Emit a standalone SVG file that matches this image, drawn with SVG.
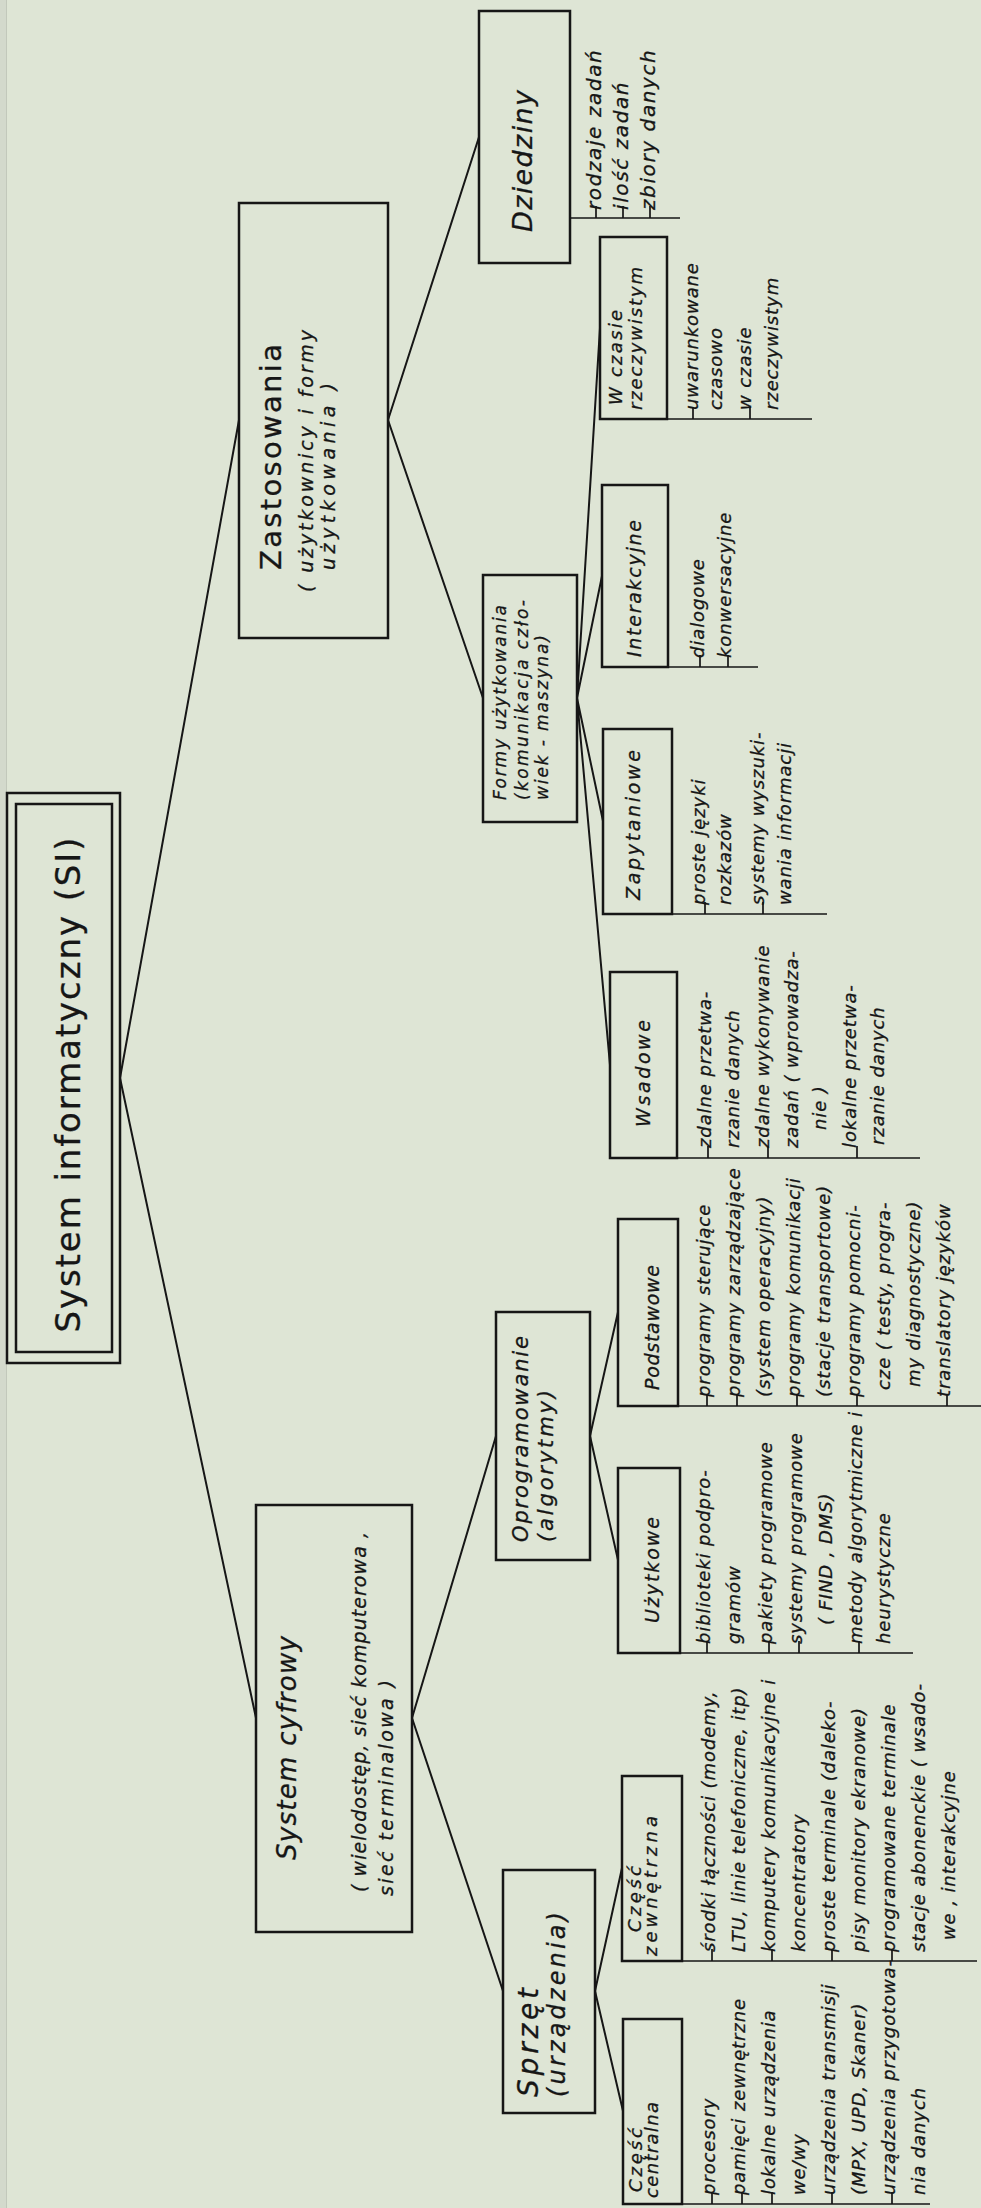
<svg xmlns="http://www.w3.org/2000/svg" width="981" height="2208" viewBox="0 0 981 2208">
<style>
.box{fill:none;stroke:#161616;stroke-width:2.5}
.conn{fill:none;stroke:#161616;stroke-width:2}
.ll{fill:none;stroke:#161616;stroke-width:1.7}
text{font-family:"DejaVu Sans","Liberation Sans",sans-serif;fill:#161616;stroke:#161616;stroke-width:0.3}
.it{font-style:italic}
.leaf{font-style:italic;font-size:18px;letter-spacing:0.9px}
.leafb{font-style:italic;font-size:20px;letter-spacing:1.6px}
.h{font-style:italic;font-size:19px}
</style>
<rect width="981" height="2208" fill="#dee5d5"/>
<rect width="6" height="2208" fill="#d3d9cc"/>
<line x1="6.5" y1="0" x2="6.5" y2="2208" stroke="#c2c8bb" stroke-width="1"/>

<g id="connectors">
<path class="conn" d="M120 1078L239 420M120 1078L256 1718M388 420L479 137M388 420L483 698M577 698L600 328M577 698L602 576M577 698L603 821M577 698L610 1065M412 1718L496 1436M412 1718L503 1991M590 1436L618 1312M590 1436L618 1560M595 1991L622 1868M595 1991L623 2111"/>
</g>

<g id="root">
<rect class="box" x="7" y="793" width="113" height="570"/>
<rect class="box" x="16" y="804" width="96" height="548" stroke-width="2"/>
<text x="80" y="1085" font-size="34" text-anchor="middle" textLength="495" transform="rotate(-90 80 1085)">System informatyczny (SI)</text>
</g>

<g id="zastosowania">
<rect class="box" x="239" y="203" width="149" height="435"/>
<text x="281" y="570" font-size="29" textLength="226" transform="rotate(-90 281 570)">Zastosowania</text>
<text class="it" x="313" y="592" font-size="19" textLength="262" transform="rotate(-90 313 592)">( użytkownicy i formy</text>
<text class="it" x="335" y="570" font-size="19" textLength="187" transform="rotate(-90 335 570)">użytkowania )</text>
</g>

<g id="dziedziny">
<rect class="box" x="479" y="11" width="91" height="252"/>
<text class="it" x="532" y="232" font-size="27" textLength="142" transform="rotate(-90 532 232)">Dziedziny</text>
<path class="ll" d="M570 218H680M596 206V218M623 206V218M650 206V218"/>
<text class="leafb" x="601" y="210" transform="rotate(-90 601 210)">rodzaje zadań</text>
<text class="leafb" x="628" y="210" transform="rotate(-90 628 210)">ilość zadań</text>
<text class="leafb" x="655" y="210" transform="rotate(-90 655 210)">zbiory danych</text>
</g>

<g id="formy">
<rect class="box" x="483" y="575" width="94" height="247"/>
<text class="it" x="506" y="800" font-size="17" textLength="195" transform="rotate(-90 506 800)">Formy użytkowania</text>
<text class="it" x="528" y="800" font-size="17" textLength="200" transform="rotate(-90 528 800)">(komunikacja czło-</text>
<text class="it" x="548" y="800" font-size="17" textLength="165" transform="rotate(-90 548 800)">wiek - maszyna)</text>
</g>

<g id="w-czasie">
<rect class="box" x="600" y="237" width="67" height="182"/>
<text class="it" x="622" y="405" font-size="18" textLength="95" transform="rotate(-90 622 405)">W czasie</text>
<text class="it" x="642" y="410" font-size="18" textLength="143" transform="rotate(-90 642 410)">rzeczywistym</text>
<path class="ll" d="M667 419H812M693 407V419M750 407V419"/>
<text class="leaf" x="698" y="410" transform="rotate(-90 698 410)">uwarunkowane</text>
<text class="leaf" x="722" y="410" transform="rotate(-90 722 410)">czasowo</text>
<text class="leaf" x="751" y="410" transform="rotate(-90 751 410)">w czasie</text>
<text class="leaf" x="778" y="410" transform="rotate(-90 778 410)">rzeczywistym</text>
</g>

<g id="interakcyjne">
<rect class="box" x="602" y="485" width="66" height="182"/>
<text class="h" x="641" y="657" textLength="137" transform="rotate(-90 641 657)">Interakcyjne</text>
<path class="ll" d="M668 667H758M700 655V667M728 655V667"/>
<text class="leaf" x="704" y="658" transform="rotate(-90 704 658)">dialogowe</text>
<text class="leaf" x="731" y="658" transform="rotate(-90 731 658)">konwersacyjne</text>
</g>

<g id="zapytaniowe">
<rect class="box" x="603" y="729" width="69" height="185"/>
<text class="h" x="640" y="900" textLength="150" transform="rotate(-90 640 900)">Zapytaniowe</text>
<path class="ll" d="M672 914H827M705 902V914M763 902V914"/>
<text class="leaf" x="705" y="905" transform="rotate(-90 705 905)">proste języki</text>
<text class="leaf" x="731" y="905" transform="rotate(-90 731 905)">rozkazów</text>
<text class="leaf" x="764" y="905" transform="rotate(-90 764 905)">systemy wyszuki-</text>
<text class="leaf" x="791" y="905" transform="rotate(-90 791 905)">wania informacji</text>
</g>

<g id="wsadowe">
<rect class="box" x="610" y="972" width="67" height="186"/>
<text class="h" x="650" y="1127" textLength="107" transform="rotate(-90 650 1127)">Wsadowe</text>
<path class="ll" d="M677 1158H920M708 1146V1158M768 1146V1158M857 1146V1158"/>
<text class="leaf" x="711" y="1148" transform="rotate(-90 711 1148)">zdalne przetwa-</text>
<text class="leaf" x="739" y="1148" transform="rotate(-90 739 1148)">rzanie danych</text>
<text class="leaf" x="769" y="1148" transform="rotate(-90 769 1148)">zdalne wykonywanie</text>
<text class="leaf" x="798" y="1148" transform="rotate(-90 798 1148)">zadań ( wprowadza-</text>
<text class="leaf" x="826" y="1130" transform="rotate(-90 826 1130)">nie )</text>
<text class="leaf" x="856" y="1148" transform="rotate(-90 856 1148)">lokalne przetwa-</text>
<text class="leaf" x="884" y="1145" transform="rotate(-90 884 1145)">rzanie danych</text>
</g>

<g id="system-cyfrowy">
<rect class="box" x="256" y="1505" width="156" height="427"/>
<text class="it" x="296" y="1860" font-size="26" textLength="224" transform="rotate(-90 296 1860)">System cyfrowy</text>
<text class="it" x="366" y="1892" font-size="19" textLength="360" transform="rotate(-90 366 1892)">( wielodostęp, sieć komputerowa ,</text>
<text class="it" x="393" y="1896" font-size="19" textLength="216" transform="rotate(-90 393 1896)">sieć terminalowa )</text>
</g>

<g id="oprogramowanie">
<rect class="box" x="496" y="1312" width="94" height="248"/>
<text class="it" x="528" y="1542" font-size="21" textLength="206" transform="rotate(-90 528 1542)">Oprogramowanie</text>
<text class="it" x="553" y="1542" font-size="21" textLength="152" transform="rotate(-90 553 1542)">(algorytmy)</text>
</g>

<g id="podstawowe">
<rect class="box" x="618" y="1219" width="60" height="187"/>
<text class="h" x="659" y="1390" textLength="125" transform="rotate(-90 659 1390)">Podstawowe</text>
<path class="ll" d="M678 1406H981M707 1394V1406M737 1394V1406M797 1394V1406M857 1394V1406M947 1394V1406"/>
<text class="leaf" x="710" y="1397" transform="rotate(-90 710 1397)">programy sterujące</text>
<text class="leaf" x="740" y="1397" transform="rotate(-90 740 1397)">programy zarządzające</text>
<text class="leaf" x="770" y="1397" transform="rotate(-90 770 1397)">(system operacyjny)</text>
<text class="leaf" x="800" y="1397" transform="rotate(-90 800 1397)">programy komunikacji</text>
<text class="leaf" x="830" y="1397" transform="rotate(-90 830 1397)">(stacje transportowe)</text>
<text class="leaf" x="860" y="1397" transform="rotate(-90 860 1397)">programy pomocni-</text>
<text class="leaf" x="890" y="1390" transform="rotate(-90 890 1390)">cze ( testy, progra-</text>
<text class="leaf" x="920" y="1387" transform="rotate(-90 920 1387)">my diagnostyczne)</text>
<text class="leaf" x="950" y="1397" transform="rotate(-90 950 1397)">translatory języków</text>
</g>

<g id="uzytkowe">
<rect class="box" x="618" y="1468" width="62" height="185"/>
<text class="h" x="659" y="1623" textLength="106" transform="rotate(-90 659 1623)">Użytkowe</text>
<path class="ll" d="M680 1653H913M707 1641V1653M769 1641V1653M799 1641V1653M859 1641V1653"/>
<text class="leaf" x="710" y="1644" transform="rotate(-90 710 1644)">biblioteki podpro-</text>
<text class="leaf" x="740" y="1644" transform="rotate(-90 740 1644)">gramów</text>
<text class="leaf" x="772" y="1644" transform="rotate(-90 772 1644)">pakiety programowe</text>
<text class="leaf" x="802" y="1644" transform="rotate(-90 802 1644)">systemy programowe</text>
<text class="leaf" x="832" y="1625" transform="rotate(-90 832 1625)">( FIND , DMS)</text>
<text class="leaf" x="862" y="1644" transform="rotate(-90 862 1644)">metody algorytmiczne i</text>
<text class="leaf" x="890" y="1644" transform="rotate(-90 890 1644)">heurystyczne</text>
</g>

<g id="sprzet">
<rect class="box" x="503" y="1870" width="92" height="243"/>
<text class="it" x="538" y="2097" font-size="28" textLength="109" transform="rotate(-90 538 2097)">Sprzęt</text>
<text class="it" x="565" y="2097" font-size="24" textLength="185" transform="rotate(-90 565 2097)">(urządzenia)</text>
</g>

<g id="czesc-zewnetrzna">
<rect class="box" x="622" y="1776" width="60" height="185"/>
<text class="it" x="641" y="1932" font-size="18" textLength="66" transform="rotate(-90 641 1932)">Część</text>
<text class="it" x="657" y="1956" font-size="18" textLength="140" transform="rotate(-90 657 1956)">zewnętrzna</text>
<path class="ll" d="M682 1961H977M712 1949V1961M772 1949V1961M832 1949V1961M892 1949V1961"/>
<text class="leaf" x="715" y="1952" transform="rotate(-90 715 1952)">środki łączności (modemy,</text>
<text class="leaf" x="745" y="1952" transform="rotate(-90 745 1952)">LTU, linie telefoniczne, itp)</text>
<text class="leaf" x="775" y="1952" transform="rotate(-90 775 1952)">komputery komunikacyjne i</text>
<text class="leaf" x="805" y="1952" transform="rotate(-90 805 1952)">koncentratory</text>
<text class="leaf" x="835" y="1952" transform="rotate(-90 835 1952)">proste terminale (daleko-</text>
<text class="leaf" x="865" y="1952" transform="rotate(-90 865 1952)">pisy monitory ekranowe)</text>
<text class="leaf" x="895" y="1952" transform="rotate(-90 895 1952)">programowane terminale</text>
<text class="leaf" x="925" y="1952" transform="rotate(-90 925 1952)">stacje abonenckie ( wsado-</text>
<text class="leaf" x="955" y="1940" transform="rotate(-90 955 1940)">we , interakcyjne</text>
</g>

<g id="czesc-centralna">
<rect class="box" x="623" y="2019" width="59" height="185"/>
<text class="it" x="642" y="2192" font-size="18" textLength="64" transform="rotate(-90 642 2192)">Część</text>
<text class="it" x="658" y="2198" font-size="18" textLength="96" transform="rotate(-90 658 2198)">centralna</text>
<path class="ll" d="M682 2204H930M712 2192V2204M742 2192V2204M772 2192V2204M832 2192V2204M892 2192V2204"/>
<text class="leaf" x="715" y="2195" transform="rotate(-90 715 2195)">procesory</text>
<text class="leaf" x="745" y="2195" transform="rotate(-90 745 2195)">pamięci zewnętrzne</text>
<text class="leaf" x="775" y="2195" transform="rotate(-90 775 2195)">lokalne urządzenia</text>
<text class="leaf" x="805" y="2195" transform="rotate(-90 805 2195)">we/wy</text>
<text class="leaf" x="835" y="2195" transform="rotate(-90 835 2195)">urządzenia transmisji</text>
<text class="leaf" x="865" y="2195" transform="rotate(-90 865 2195)">(MPX, UPD, Skaner)</text>
<text class="leaf" x="895" y="2195" transform="rotate(-90 895 2195)">urządzenia przygotowa-</text>
<text class="leaf" x="925" y="2195" transform="rotate(-90 925 2195)">nia danych</text>
</g>
</svg>
